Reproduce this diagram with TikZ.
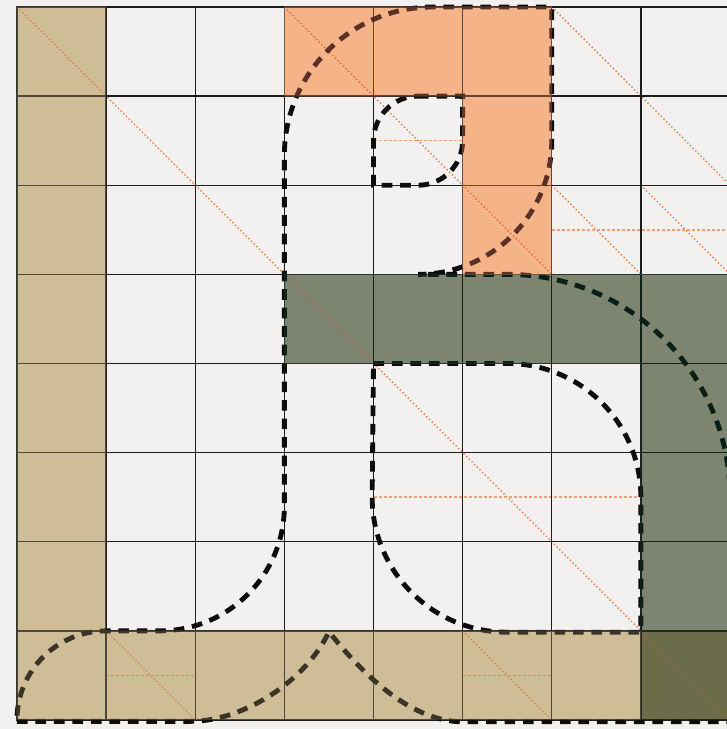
\documentclass[tikz,border=0pt]{standalone}
\definecolor{bgc}{HTML}{F2F1F0}
\definecolor{tanc}{HTML}{CEBD96}
\definecolor{orc}{HTML}{F5B487}
\definecolor{grc}{HTML}{7D8570}
\definecolor{olc}{HTML}{6A6C4A}
\definecolor{gridL}{HTML}{1C1C1C}
\definecolor{gridT}{HTML}{4F4838}
\definecolor{gridO}{HTML}{6B4534}
\definecolor{gridG}{HTML}{0F2219}
\definecolor{gridV}{HTML}{25271A}
\definecolor{dashL}{HTML}{0D0D0D}
\definecolor{dashT}{HTML}{3B3528}
\definecolor{dashO}{HTML}{5A3127}
\definecolor{dashG}{HTML}{0A1F17}
\definecolor{dashV}{HTML}{1F2015}
\definecolor{dotL}{HTML}{EE7840}
\definecolor{dotT}{HTML}{D7824C}
\definecolor{dotO}{HTML}{EA6A35}
\definecolor{dotG}{HTML}{A0663F}
\definecolor{dotV}{HTML}{A0683C}
\definecolor{hdotL}{HTML}{F2A07C}
\definecolor{hdotT}{HTML}{DC8A5A}
\def\outerpath{(0,-0.015) -- (1.95,-0.015) .. controls (2.55,-0.015) and (3.25,0.45) .. (3.5,0.99) .. controls (3.85,0.55) and (4.4,-0.02) .. (5,-0.02) -- (8,-0.02) -- (8,2.5) arc[start angle=0,end angle=90,radius=2.5] -- (4.5,5) arc[start angle=270,end angle=360,radius=1.5] -- (6,8) -- ({14/3},8) arc[start angle=90,end angle=180,radius={5/3}] -- (3,2.4) arc[start angle=0,end angle=-90,radius=1.4] -- (1,1) arc[start angle=90,end angle=180,radius=1] -- cycle}
\def\holeA{(4.5,7) -- (5,7) -- (5,6.5) arc[start angle=0,end angle=-90,radius=0.5] -- (4,6) -- (4,6.5) arc[start angle=180,end angle=90,radius=0.5] -- cycle}
\def\holeB{(4,4) -- (5.5,4) arc[start angle=90,end angle=0,radius=1.5] -- (7,0.985) -- (5.5,0.985) arc[start angle=270,end angle=180,radius=1.515] -- cycle}
\newcommand{\dotlines}[2]{%
  \draw[diagline,#1] (0,8) -- (8,0) (3,8) -- (6,5) (6,8) -- (8,6) (6,6) -- (7,5) (7,6) -- (8,5) (1,1) -- (2,0) (5,1) -- (6,0);
  \draw[horline,#2] (4,6.5) -- (5,6.5) (6,5.5) -- (8,5.5) (4,2.5) -- (7,2.5) (1,0.5) -- (2,0.5) (5,0.5) -- (6,0.5);
}
\newcommand{\alllines}[4]{% grid, dash, dot, hdot
  \dotlines{#3}{#4}
  \draw[gridline,#1] (0,0) grid (8,8);
  \draw[borderline,#1] (0,0) rectangle (8,8);
  \draw[outl,#2] \outerpath;
  \draw[outl,#2] \holeA;
  \draw[outl,#2] \holeB;
}
\newcommand{\regionlines}[6]{%
  \begin{scope}
    \clip #1;
    \fill[#2] #1;
    \alllines{#3}{#4}{#5}{#6}
  \end{scope}}
\begin{document}
\begin{tikzpicture}[x=1cm,y=1cm,
  gridline/.style={line width=0.42pt},
  borderline/.style={line width=0.7pt},
  outl/.style={line width=1.55pt, dash pattern=on 3.4pt off 2.5pt},
  diagline/.style={line width=0.45pt, dash pattern=on 0.45pt off 0.75pt},
  horline/.style={line width=0.45pt, dash pattern=on 1pt off 0.6pt}]
\fill[bgc] (-0.1907,-0.101) rectangle (7.966,8.0785);
\useasboundingbox (-0.1907,-0.101) rectangle (7.966,8.0785);
\alllines{gridL}{dashL}{dotL}{hdotL}
\regionlines{(0,0) rectangle (1,8) (1,0) rectangle (7,1)}{tanc}{gridT}{dashT}{dotT}{hdotT}
\regionlines{(3,4) rectangle (8,5) (7,1) rectangle (8,4)}{grc}{gridG}{dashG}{dotG}{dotG}
\regionlines{(7,0) rectangle (8,1)}{olc}{gridV}{dashV}{dotV}{dotV}
\regionlines{(3,7) rectangle (6,8) (5,5) rectangle (6,7)}{orc}{gridO}{dashO}{dotO}{dotO}
\end{tikzpicture}
\end{document}
